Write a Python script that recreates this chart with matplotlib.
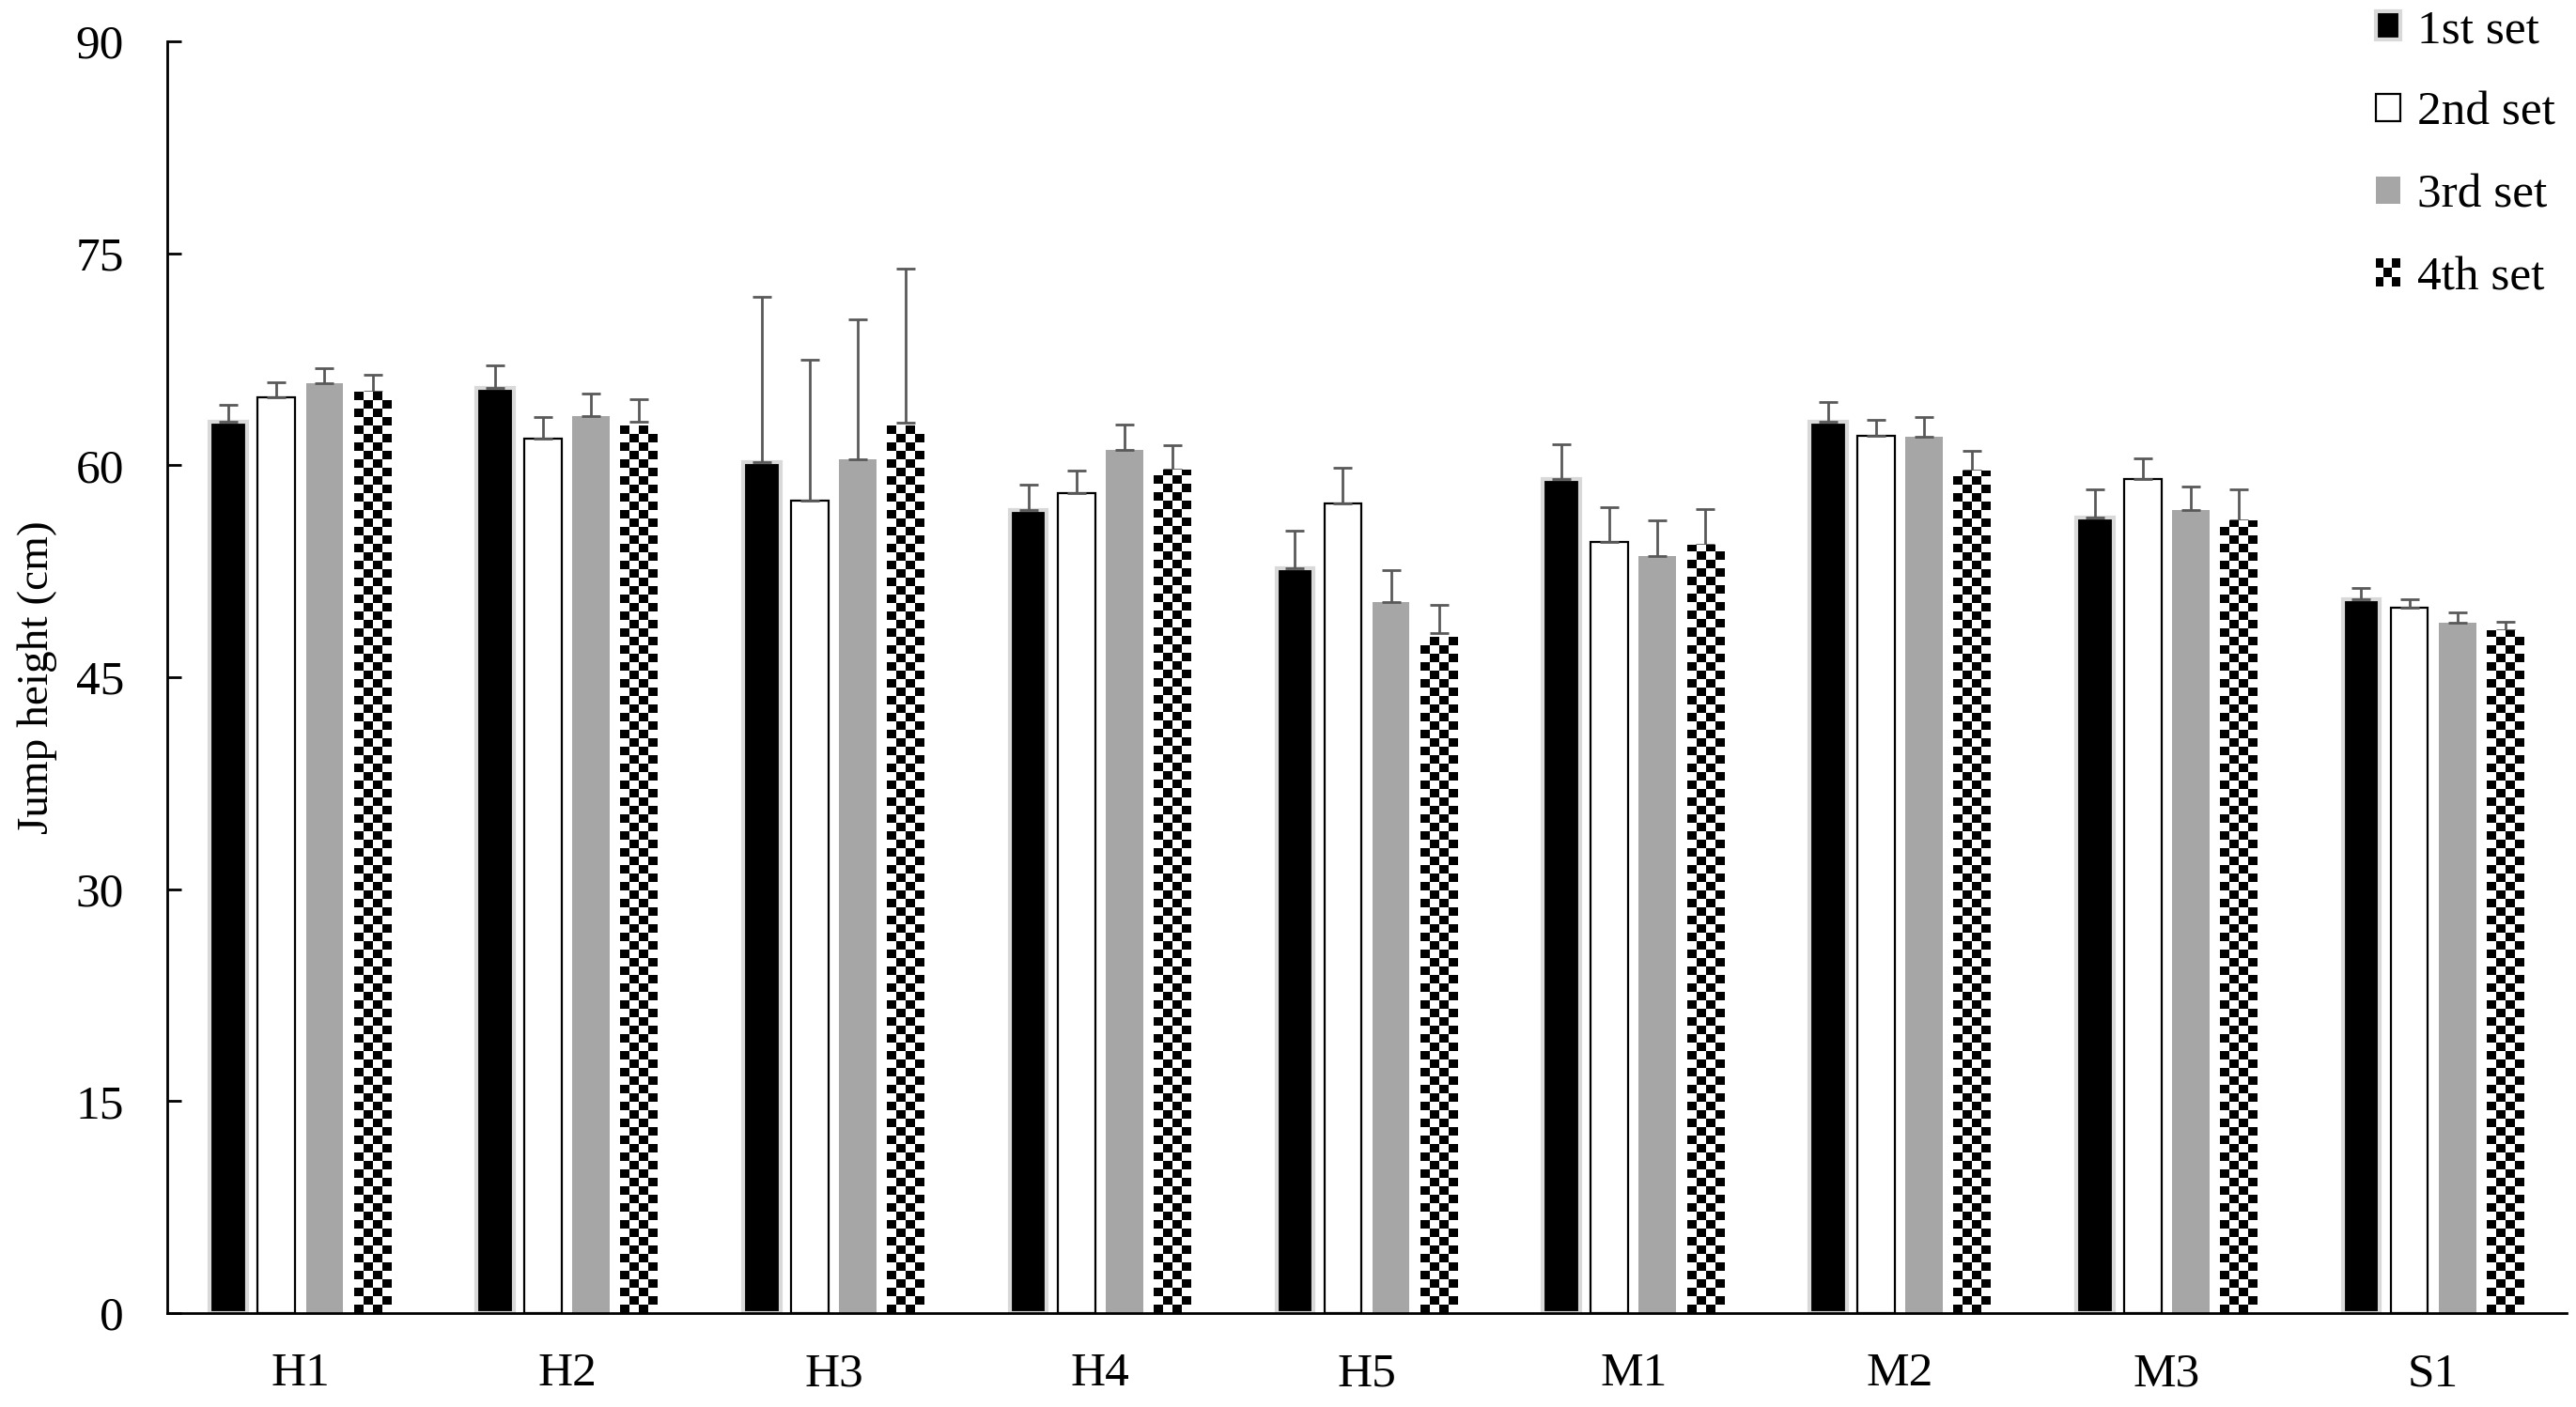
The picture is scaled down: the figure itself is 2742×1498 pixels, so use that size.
import matplotlib
matplotlib.use("Agg")
import matplotlib.pyplot as plt
import numpy as np
from matplotlib.legend_handler import HandlerBase
from matplotlib.patches import Rectangle

plt.rcParams["font.family"] = ["Liberation Serif", "DejaVu Serif"]

groups = ["H1", "H2", "H3", "H4", "H5", "M1", "M2", "M3", "S1"]
set_names = ["1st set", "2nd set", "3rd set", "4th set"]

set1 = [63.1, 65.5, 60.2, 56.8, 52.7, 59.0, 63.1, 56.3, 50.5]
set2 = [64.8, 61.9, 57.5, 58.0, 57.3, 54.6, 62.1, 59.0, 49.95]
set3 = [65.8, 63.5, 60.4, 61.1, 50.35, 53.6, 62.0, 56.8, 48.85]
set4 = [65.2, 63.1, 63.0, 59.7, 48.1, 54.4, 59.6, 56.1, 48.3]

set1_sd = [1.2, 1.6, 11.7, 1.8, 2.7, 2.5, 1.4, 2.0, 0.8]
set2_sd = [1.1, 1.5, 10.0, 1.6, 2.5, 2.4, 1.1, 1.5, 0.6]
set3_sd = [1.1, 1.6, 9.9, 1.8, 2.25, 2.5, 1.4, 1.7, 0.75]
set4_sd = [1.2, 1.6, 10.9, 1.7, 2.0, 2.5, 1.4, 2.2, 0.65]

yticks = [0, 15, 30, 45, 60, 75, 90]

W, H, DPI = 2742, 1498, 100
fig = plt.figure(figsize=(W / DPI, H / DPI), dpi=DPI)
ax_left, ax_bottom = 178 / W, 1 - 1398 / H
ax_w, ax_h = (2732 - 178) / W, (1398 - 44) / H
ax = fig.add_axes([ax_left, ax_bottom, ax_w, ax_h])

x = np.arange(len(groups))
width = 0.14
step = 0.18
err_kw = dict(ecolor="#595959", elinewidth=2, capsize=7.5, capthick=2)

means = [set1, set2, set3, set4]
sds = [set1_sd, set2_sd, set3_sd, set4_sd]
styles = [
    dict(color="black", edgecolor="#d9d9d9", linewidth=3),
    dict(color="white", edgecolor="black", linewidth=1.6),
    dict(color="#a6a6a6", edgecolor="none", linewidth=0),
    dict(color="white", edgecolor="none", linewidth=0),
]

ax.set_xlim(-0.5, len(groups) - 0.5)
ax.set_ylim(0, 90)

bar_sets = []
for k in range(4):
    offs = (k - 1.5) * step
    yerr = [np.zeros(len(groups)), sds[k]]
    bars = ax.bar(x + offs, means[k], width, yerr=yerr, error_kw=err_kw,
                  zorder=2, **styles[k])
    bar_sets.append(bars)

# checkerboard fill for the 4th set, clipped to each bar
check_px = 9
px_x = ax_w * W / len(groups)
px_y = ax_h * H / 90
for bar in bar_sets[3]:
    x0, bw, bh = bar.get_x(), bar.get_width(), bar.get_height()
    ncol = max(1, int(round(bw * px_x / check_px)))
    nrow = max(1, int(round(bh * px_y / check_px)))
    board = (np.add.outer(np.arange(nrow), np.arange(ncol)) % 2).astype(float)
    im = ax.imshow(board, cmap="gray", vmin=0, vmax=1, interpolation="nearest",
                   extent=(x0, x0 + bw, 0, nrow * check_px / px_y),
                   aspect="auto", origin="lower", zorder=2.5)
    im.set_clip_path(bar)

ax.set_xlim(-0.5, len(groups) - 0.5)
ax.set_ylim(0, 90)
ax.set_yticks(yticks)
ax.set_xticks(x)
ax.set_xticklabels(groups)
ax.tick_params(axis="y", direction="in", length=11, width=2, pad=33, labelsize=37)
ax.tick_params(axis="x", length=0, pad=30, labelsize=37)
for s in ["top", "right"]:
    ax.spines[s].set_visible(False)
for s in ["left", "bottom"]:
    ax.spines[s].set_linewidth(2)
ax.set_ylabel("Jump height (cm)", fontsize=34, labelpad=14)


class CheckerHandler(HandlerBase):
    def create_artists(self, legend, orig_handle, xdescent, ydescent,
                       width, height, fontsize, trans):
        n = 3
        out = []
        for i in range(n):
            for j in range(n):
                if (i + j) % 2 == 0:
                    out.append(Rectangle((-xdescent + i * width / n, -ydescent + j * height / n),
                                         width / n, height / n, facecolor="black",
                                         edgecolor="none", transform=trans))
        return out


handles = [
    Rectangle((0, 0), 1, 1, facecolor="black", edgecolor="#d9d9d9", linewidth=3),
    Rectangle((0, 0), 1, 1, facecolor="white", edgecolor="black", linewidth=1.6),
    Rectangle((0, 0), 1, 1, facecolor="#a6a6a6", edgecolor="none"),
    Rectangle((0, 0), 1, 1, facecolor="white", edgecolor="none"),
]
fig.legend(handles, set_names, loc="upper left", bbox_to_anchor=(2498 / W, 1.014),
           frameon=False, fontsize=37, handlelength=0.5, handleheight=0.5,
           handletextpad=0.35, labelspacing=0.8, borderpad=0.1,
           handler_map={handles[3]: CheckerHandler()})

fig.savefig("out.png", dpi=DPI)
